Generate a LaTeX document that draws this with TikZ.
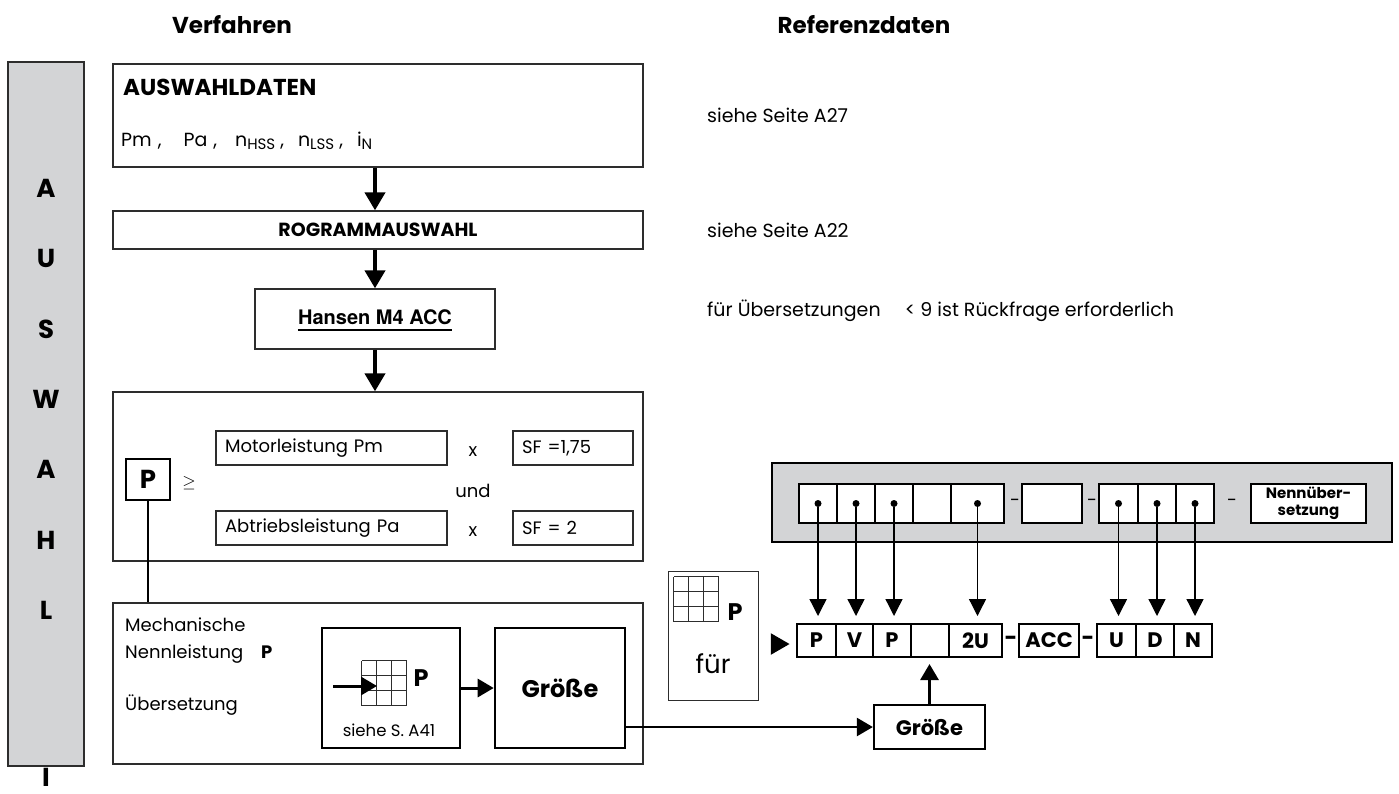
\documentclass[tikz,border=0pt]{standalone}
\usepackage{fontspec}
\setmainfont{Poppins}
\newfontfamily\herosfont{TeX Gyre Heros}
\usepackage{tikz}
\usetikzlibrary{arrows.meta,shapes.geometric}
\definecolor{panelgray}{RGB}{211,212,214}
\definecolor{linegray}{RGB}{45,45,45}
\newcommand{\idx}[1]{\raisebox{-3pt}{\fontsize{15}{17}\selectfont #1}}

\begin{document}
\begin{tikzpicture}[x=1pt,y=-1pt,
    every node/.style={inner sep=0pt, font=\fontsize{18}{21}\selectfont},
    reftext/.style={anchor=base west, font=\fontsize{19}{22}\selectfont},
    frame/.style={draw=linegray, line width=1.3pt, fill=white},
    heavyframe/.style={draw, line width=2.6pt, fill=white},
    field/.style={frame, text width=#1, inner xsep=9pt, minimum height=34pt, align=left},
    pbox/.style={draw, line width=2pt, minimum width=44pt, minimum height=41pt, font=\fontsize{26}{30}\selectfont\bfseries},
    headfont/.style={font=\fontsize{23}{27}\selectfont\bfseries},
    titlefont/.style={font=\fontsize{23}{27}\selectfont\bfseries},
    barletter/.style={font=\fontsize{26}{30}\selectfont\bfseries},
    sidebar/.style={draw=linegray, line width=2pt, fill=panelgray, minimum width=76pt, minimum height=704pt},
    panel/.style={draw, line width=2.5pt, fill=panelgray, minimum width=620pt, minimum height=79pt},
    slot/.style={draw, line width=2pt, fill=white, minimum width=#1, minimum height=39pt},
    code/.style={draw, line width=2pt, fill=white, minimum width=#1, minimum height=33pt, font=\fontsize{21}{25}\selectfont\bfseries},
    strich/.style={font=\fontsize{22}{26}\selectfont\bfseries},
    gridbox/.style={minimum width=45pt, minimum height=45pt},
    gridline/.style={draw=linegray, line width=1pt},
    dot/.style={circle, fill, minimum size=7pt},
    zeiger/.style={regular polygon, regular polygon sides=3, shape border rotate=-90, fill, minimum size=25pt},
    bigarrow/.style={line width=4pt, -{Triangle[width=20pt,length=18pt]}},
    midarrow/.style={line width=3pt, -{Triangle[width=18pt,length=16pt]}},
    thinarrow/.style={line width=1.3pt, -{Triangle[width=17pt,length=17pt]}}]

    \useasboundingbox (0,0) rectangle (1399,793);

    % headings
    \node[headfont] (verf) at (232,25) {Verfahren};
    \node[headfont] (refdaten) at (864,25) {Referenzdaten};

    % side bar
    \node[sidebar] (bar) at (46,414) {};
    \node[barletter] (b1) at (46,188) {A};
    \node[barletter] (b2) at (46,258) {U};
    \node[barletter] (b3) at (46,329) {S};
    \node[barletter] (b4) at (46,399) {W};
    \node[barletter] (b5) at (46,469) {A};
    \node[barletter] (b6) at (46,540) {H};
    \node[barletter] (b7) at (46,610) {L};
    \node[barletter] (b8) at (46,777) {I};

    % Verfahren
    \node[frame, minimum width=530pt, minimum height=103pt] (daten) at (378,115.5) {};
    \node[titlefont, anchor=base west] (datentitel) at (123,95) {AUSWAHLDATEN};
    \node[anchor=base west, font=\fontsize{19}{22}\selectfont] (datenwerte) at (121,146) {Pm\hspace{6pt},\hspace{22pt}Pa\hspace{6pt},\hspace{18pt}n\idx{HSS}\hspace{5pt},\hspace{14pt}n\idx{LSS}\hspace{5pt},\hspace{14pt}i\idx{N}};

    \node[frame, minimum width=530pt, minimum height=38pt, font=\fontsize{19}{22}\selectfont\bfseries] (auswahl) at (378,230) {ROGRAMMAUSWAHL};

    \node[frame, minimum width=240pt, minimum height=60pt] (hansen) at (375,319) {};
    \node[font=\fontsize{20}{24}\selectfont\herosfont\bfseries] (hansentxt) at (375,317) {Hansen M4 ACC};
    \draw[line width=2.2pt] ([yshift=-5pt]hansentxt.south west) -- ([yshift=-5pt]hansentxt.south east);

    \node[frame, minimum width=530pt, minimum height=169pt] (leistung) at (378,476.5) {};
    \node[field=213pt] (motor) at (331.5,448) {Motorleistung Pm};
    \node[field=213pt] (abtrieb) at (331.5,528) {Abtriebsleistung Pa};
    \node[field=102pt] (sf1) at (573,448) {SF =1,75};
    \node[field=102pt] (sf2) at (573,528) {SF = 2};
    \node[anchor=base] (mal1) at (473,456) {x};
    \node[anchor=base] (mal2) at (473,536) {x};
    \node[anchor=base] (und) at (473,497) {und};
    \node[pbox] (pwert) at (148,479.5) {P};
    \node (ge) at (189,483) {$\geq$};

    \node[frame, minimum width=530pt, minimum height=161pt] (mech) at (378,683.5) {};
    \node[anchor=base west] (mech1) at (125,631) {Mechanische};
    \node[anchor=base west] (mech2) at (125,658) {Nennleistung\quad\textbf{P}};
    \node[anchor=base west] (mech3) at (125,710) {Übersetzung};

    \node[heavyframe, minimum width=138pt, minimum height=120pt] (tabelle) at (391,688) {};
    \node[gridbox] (raster) at (384.5,683.5) {};
    \draw[gridline, shift={(raster.north west)}] (0pt,0pt) grid[step=15pt] (45pt,-45pt);
    \node[font=\fontsize{24}{28}\selectfont\bfseries] (rasterp) at (421,678) {P};
    \coordinate (tabein) at (333,686);
    \coordinate (tabziel) at (377,686);
    \node[anchor=base, font=\fontsize{16.5}{20}\selectfont] (seite41) at (389,736) {siehe S. A41};

    \node[heavyframe, minimum width=130pt, minimum height=120pt, font=\fontsize{24}{28}\selectfont\bfseries] (groesse1) at (560,688) {Größe};

    % Referenzdaten
    \node[reftext] (ref1) at (707,122) {siehe Seite A27};
    \node[reftext] (ref2) at (707,237) {siehe Seite A22};
    \node[reftext] (ref3) at (707,316) {für Übersetzungen\quad\ < 9 ist Rückfrage erforderlich};

    \node[panel] (typ) at (1082,502.5) {};
    \node[slot=38pt] (t1) at (818,503.5) {};
    \node[slot=38pt] (t2) at (856,503.5) {};
    \node[slot=38pt] (t3) at (894,503.5) {};
    \node[slot=38pt] (t4) at (932,503.5) {};
    \node[slot=53pt] (t5) at (977.5,503.5) {};
    \node (ts1) at (1015,503) {-};
    \node[slot=60pt] (t6) at (1052,503.5) {};
    \node (ts2) at (1092,503) {-};
    \node[slot=39pt] (t7) at (1118.5,503.5) {};
    \node[slot=38pt] (t8) at (1157,503.5) {};
    \node[slot=38pt] (t9) at (1195,503.5) {};
    \node (ts3) at (1232,503) {-};
    \node[slot=115pt, align=center, font=\fontsize{15}{17}\selectfont\bfseries] (nenn) at (1308.5,503.5) {Nennüber-\\setzung};

    \node[dot] (p1) at (t1) {};
    \node[dot] (p2) at (t2) {};
    \node[dot] (p3) at (t3) {};
    \node[dot] (p5) at (t5) {};
    \node[dot] (p7) at (t7) {};
    \node[dot] (p8) at (t8) {};
    \node[dot] (p9) at (t9) {};

    \node[frame, line width=1pt, minimum width=90pt, minimum height=129pt] (fuer) at (713,635.5) {};
    \node[gridbox] (raster2) at (696.5,599.5) {};
    \draw[gridline, shift={(raster2.north west)}] (0pt,0pt) grid[step=15pt] (45pt,-45pt);
    \node[font=\fontsize{24}{28}\selectfont\bfseries] (raster2p) at (735,612) {P};
    \node[anchor=base, font=\fontsize{26}{30}\selectfont] (fuertxt) at (713,673) {für};
    \node[zeiger] (zeiger) at (777,644) {};

    \node[code=39pt] (c1) at (816.5,640.5) {P};
    \node[code=37pt] (c2) at (854.5,640.5) {V};
    \node[code=38pt] (c3) at (892,640.5) {P};
    \node[code=38pt] (c4) at (930,640.5) {};
    \node[code=53pt] (c5) at (975.5,640.5) {2U};
    \node[strich] (s1) at (1011,641) {-};
    \node[code=60pt] (acc) at (1049,640.5) {ACC};
    \node[strich] (s2) at (1088,641) {-};
    \node[code=39pt] (c6) at (1116.5,640.5) {U};
    \node[code=38pt] (c7) at (1155,640.5) {D};
    \node[code=38pt] (c8) at (1193,640.5) {N};

    \node[heavyframe, line width=2.3pt, minimum width=111pt, minimum height=44pt, font=\fontsize{21}{25}\selectfont\bfseries] (groesse2) at (929.5,727) {Größe};

    % connectors
    \draw[bigarrow] (daten.south -| hansen) -- (auswahl.north -| hansen);
    \draw[bigarrow] (auswahl.south -| hansen) -- (hansen.north);
    \draw[bigarrow] (hansen.south) -- (leistung.north -| hansen);
    \draw[line width=2.5pt] (pwert.south) -- (pwert.south |- mech.north);
    \draw[midarrow] (tabein) -- (tabziel);
    \draw[midarrow] (tabelle) -- (groesse1);
    \draw[line width=2.5pt, -{Triangle[width=18pt,length=16pt]}] (groesse1.east |- groesse2) -- (groesse2);
    \draw[midarrow, shorten >=6pt] (groesse2.north) -- (groesse2.north |- c4.south);
    \draw[thinarrow, shorten >=7pt] (p1) -- (p1 |- c1.north);
    \draw[thinarrow, shorten >=7pt] (p2) -- (p2 |- c2.north);
    \draw[thinarrow, shorten >=7pt] (p3) -- (p3 |- c3.north);
    \draw[thinarrow, shorten >=7pt] (p5) -- (p5 |- c5.north);
    \draw[thinarrow, shorten >=7pt] (p7) -- (p7 |- c6.north);
    \draw[thinarrow, shorten >=7pt] (p8) -- (p8 |- c7.north);
    \draw[thinarrow, shorten >=7pt] (p9) -- (p9 |- c8.north);
\end{tikzpicture}
\end{document}
